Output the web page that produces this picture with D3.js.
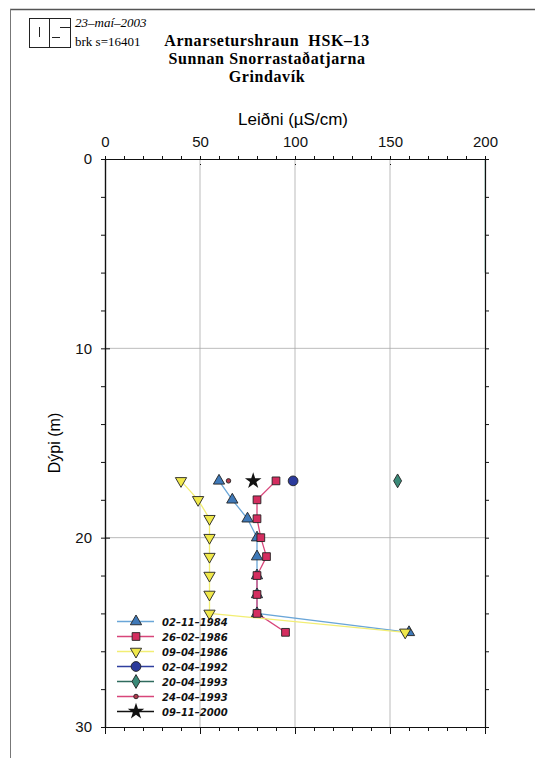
<!DOCTYPE html>
<html>
<head>
<meta charset="utf-8">
<script src="https://cdn.jsdelivr.net/npm/d3@7"></script>
<style>
  body { margin: 0; background: #fff; }
  svg { display: block; }
</style>
</head>
<body>
<svg id="chart" width="535" height="758"></svg>
<script>

// depths (m) where the profiles were measured
var depths = [17, 18, 19, 20, 21, 22, 23, 24, 25];

// conductivity profiles (uS/cm), one value per depth
var cond1984 = [60, 67, 75, 80, 80, 80, 80, 80, 160];
var cond1986a = [90, 80, 80, 82, 85, 80, 80, 80, 95];
var cond1986b = [40, 49, 55, 55, 55, 55, 55, 55, 158];

// single measurements at 17 m
var singleDepth = 17;
var cond1992 = 99;
var cond1993a = 154;
var cond1993b = 65;
var cond2000 = 78;

var seriesNames = ['02–11–1984', '26–02–1986', '09–04–1986', '02–04–1992',
    '20–04–1993', '24–04–1993', '09–11–2000'];

var xTicks = [0, 50, 100, 150, 200];
var yTicks = [0, 10, 20, 30];

var svg = d3.select('#chart');

var x = d3.scaleLinear().domain([0, 200]).range([105, 485]);
var y = d3.scaleLinear().domain([0, 30]).range([159, 727]);

// page frame
svg.append('line').attr('x1', 10).attr('x2', 535).attr('y1', 9.5).attr('y2', 9.5)
    .attr('stroke', '#555').attr('stroke-width', 1.5);
svg.append('line').attr('x1', 10.5).attr('x2', 10.5).attr('y1', 9).attr('y2', 758)
    .attr('stroke', '#777').attr('stroke-width', 1);

// logo
var logo = svg.append('g').attr('fill', 'none').attr('stroke', '#222').attr('stroke-width', 1);
logo.append('rect').attr('x', 29.5).attr('y', 18.5).attr('width', 41).attr('height', 29);
logo.append('line').attr('x1', 49.5).attr('x2', 49.5).attr('y1', 18.5).attr('y2', 47.5);
logo.append('line').attr('x1', 39.5).attr('x2', 39.5).attr('y1', 27).attr('y2', 37);
logo.append('line').attr('x1', 60).attr('x2', 70.5).attr('y1', 27.5).attr('y2', 27.5);
logo.append('line').attr('x1', 52).attr('x2', 60).attr('y1', 37.5).attr('y2', 37.5);

svg.append('text').attr('x', 75).attr('y', 27)
    .style('font', 'italic 13px "Liberation Serif", serif').text('23–maí–2003');
svg.append('text').attr('x', 75).attr('y', 46)
    .style('font', '13px "Liberation Serif", serif').text('brk s=16401');

var titles = ['Arnarseturshraun  HSK–13', 'Sunnan Snorrastaðatjarna', 'Grindavík'];
svg.selectAll('.title').data(titles).enter().append('text')
    .attr('class', 'title')
    .attr('x', 267)
    .attr('y', function (d, i) { return 46 + i * 18; })
    .attr('text-anchor', 'middle')
    .style('font', 'bold 16px "Liberation Serif", serif')
    .style('letter-spacing', '0.6px')
    .style('white-space', 'pre')
    .text(function (d) { return d; });

// grid lines
var grid = svg.append('g').attr('stroke', '#aaa').attr('stroke-width', 0.8);
grid.selectAll('.gx').data([50, 100, 150]).enter().append('line')
    .attr('x1', function (d) { return x(d); }).attr('x2', function (d) { return x(d); })
    .attr('y1', y(0)).attr('y2', y(30));
grid.append('line').attr('x1', x(200)).attr('x2', x(200)).attr('y1', y(0)).attr('y2', y(6))
    .attr('stroke', '#7fb5a8');
grid.selectAll('.gy').data([10, 20]).enter().append('line')
    .attr('x1', x(0)).attr('x2', x(200))
    .attr('y1', function (d) { return y(d); }).attr('y2', function (d) { return y(d); });

// axes
var minorX = d3.range(0, 201, 10);
var minorY = d3.range(0, 31, 2);

function styleAxis (g) {
    g.select('.domain').attr('stroke', '#111').attr('stroke-width', 1.2);
    g.selectAll('.tick line').attr('stroke', '#111');
    g.selectAll('.tick text').style('font', '15px "Liberation Sans", Arial, sans-serif').attr('fill', '#111');
}

svg.append('g').attr('transform', 'translate(0,' + y(0) + ')')
    .call(d3.axisTop(x).tickValues(minorX).tickSize(3).tickFormat('').tickSizeOuter(0))
    .call(styleAxis);
svg.append('g').attr('transform', 'translate(0,' + y(0) + ')')
    .call(d3.axisTop(x).tickValues(xTicks).tickSizeInner(-5).tickSizeOuter(0).tickPadding(12).tickFormat(d3.format('d')))
    .call(styleAxis)
    .call(function (g) { g.selectAll('.tick line').attr('y1', 6); });

svg.append('g').attr('transform', 'translate(0,' + y(30) + ')')
    .call(d3.axisBottom(x).tickValues(minorX).tickSize(4).tickFormat('').tickSizeOuter(0))
    .call(styleAxis);
svg.append('g').attr('transform', 'translate(0,' + y(30) + ')')
    .call(d3.axisBottom(x).tickValues(xTicks).tickSize(7).tickFormat('').tickSizeOuter(0))
    .call(styleAxis);

svg.append('g').attr('transform', 'translate(' + x(0) + ',0)')
    .call(d3.axisLeft(y).tickValues(minorY).tickSize(4).tickFormat('').tickSizeOuter(0))
    .call(styleAxis);
svg.append('g').attr('transform', 'translate(' + x(0) + ',0)')
    .call(d3.axisLeft(y).tickValues(yTicks).tickSize(9).tickPadding(4).tickFormat(d3.format('d')).tickSizeOuter(0))
    .call(styleAxis)
    .call(function (g) { g.selectAll('.tick line').attr('x2', 5); });

svg.append('g').attr('transform', 'translate(' + x(200) + ',0)')
    .call(d3.axisRight(y).tickValues(minorY).tickSize(4).tickFormat('').tickSizeOuter(0))
    .call(styleAxis);

// axis titles
svg.append('text').attr('x', 293).attr('y', 125).attr('text-anchor', 'middle')
    .style('font', '17px "Liberation Sans", Arial, sans-serif').text('Leiðni (µS/cm)');
svg.append('text').attr('transform', 'translate(60,443) rotate(-90)').attr('text-anchor', 'middle')
    .style('font', '16px "Liberation Sans", Arial, sans-serif').text('Dýpi (m)');

// series styles
var styles = [
    { line: '#6aa6d8', fill: '#3f79b8', sym: d3.symbolTriangle, size: 55, rot: 0 },
    { line: '#d8457a', fill: '#d42d5f', sym: d3.symbolSquare, size: 60, rot: 0 },
    { line: '#f2ee74', fill: '#f0e84a', sym: d3.symbolTriangle, size: 55, rot: 180 },
    { line: '#2f3f9e', fill: '#2b3a9c', sym: d3.symbolCircle, size: 75, rot: 0 },
    { line: '#2f6b5e', fill: '#3a8a78', sym: d3.symbolDiamond, size: 55, rot: 0 },
    { line: '#d8457a', fill: '#b23a4c', sym: d3.symbolCircle, size: 16, rot: 0 },
    { line: '#111', fill: '#111', sym: d3.symbolStar, size: 85, rot: 0 }
];

var profiles = [cond1984, cond1986a, cond1986b];
var singles = [cond1992, cond1993a, cond1993b, cond2000];

var line = d3.line()
    .x(function (d) { return x(d[0]); })
    .y(function (d) { return y(d[1]); });

function marker (g, st, px, py) {
    g.append('path')
        .attr('d', d3.symbol().type(st.sym).size(st.size)())
        .attr('transform', 'translate(' + px + ',' + py + ') rotate(' + st.rot + ')')
        .attr('fill', st.fill)
        .attr('stroke', st.sym === d3.symbolStar ? 'none' : '#222')
        .attr('stroke-width', 0.9);
}

var plot = svg.append('g');

profiles.forEach(function (vals, k) {
    var pts = vals.map(function (v, i) { return [v, depths[i]]; });
    plot.append('path').datum(pts)
        .attr('d', line)
        .attr('fill', 'none')
        .attr('stroke', styles[k].line)
        .attr('stroke-width', 1.3);
});
profiles.forEach(function (vals, k) {
    vals.forEach(function (v, i) {
        marker(plot, styles[k], x(v), y(depths[i]));
    });
});
singles.forEach(function (v, k) {
    marker(plot, styles[k + 3], x(v), y(singleDepth));
});

// legend
var legend = svg.append('g');
seriesNames.forEach(function (name, i) {
    var ly = 621.5 + i * 15;
    var st = styles[i];
    legend.append('line').attr('x1', 117).attr('x2', 154).attr('y1', ly).attr('y2', ly)
        .attr('stroke', st.line).attr('stroke-width', 1.3);
    marker(legend, st, 136, ly);
    legend.append('text').attr('x', 162).attr('y', ly + 4)
        .style('font', 'italic bold 10px "DejaVu Sans", sans-serif')
        .attr('fill', '#111')
        .text(name);
});

</script>
</body>
</html>
